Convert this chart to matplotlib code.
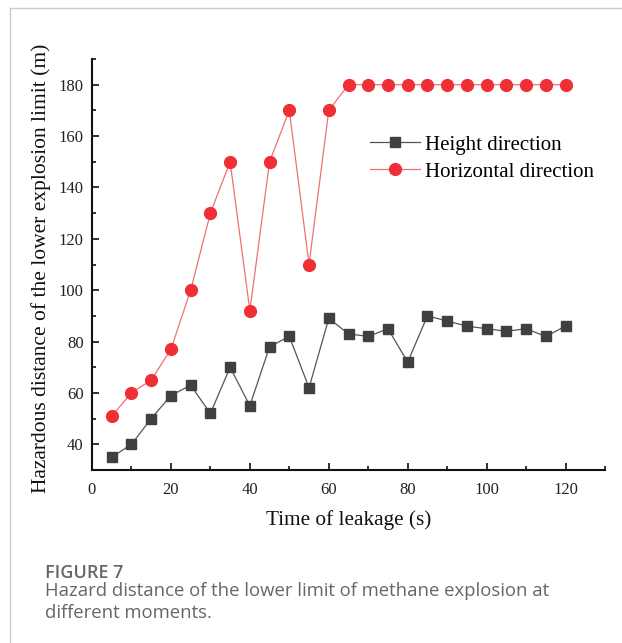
import matplotlib
matplotlib.use("Agg")
import matplotlib.pyplot as plt
from matplotlib.ticker import MultipleLocator
from matplotlib.lines import Line2D

# leakage time (s)
time_s = [5, 10, 15, 20, 25, 30, 35, 40, 45, 50, 55, 60,
          65, 70, 75, 80, 85, 90, 95, 100, 105, 110, 115, 120]
# hazardous distance (m)
height_dir = [35, 40, 50, 59, 63, 52, 70, 55, 78, 82, 62, 89,
              83, 82, 85, 72, 90, 88, 86, 85, 84, 85, 82, 86]
horizontal_dir = [51, 60, 65, 77, 100, 130, 150, 92, 150, 170, 110, 170,
                  180, 180, 180, 180, 180, 180, 180, 180, 180, 180, 180, 180]

plt.rcParams['font.family'] = ['Liberation Serif', 'DejaVu Serif']

fig = plt.figure(figsize=(6.22, 6.43), dpi=100)

# page frame lines (top and left)
fig.add_artist(Line2D([10 / 622, 1], [1 - 8 / 643, 1 - 8 / 643], color='#cccccc', lw=1))
fig.add_artist(Line2D([10 / 622, 10 / 622], [0, 1 - 8 / 643], color='#cccccc', lw=1))

ax = fig.add_axes([92 / 622, 1 - 470 / 643, 513 / 622, 411 / 643])

ax.plot(time_s, height_dir, color='#555555', lw=0.9, marker='s', ms=7.5,
        mfc='#404040', mec='#404040', label='Height direction')
ax.plot(time_s, horizontal_dir, color='#f07070', lw=0.9, marker='o', ms=8.5,
        mfc='#ee2f36', mec='#ee2f36', label='Horizontal direction')

ax.set_xlim(0, 130)
ax.set_ylim(30, 190)
ax.xaxis.set_major_locator(MultipleLocator(20))
ax.xaxis.set_minor_locator(MultipleLocator(10))
ax.yaxis.set_major_locator(MultipleLocator(20))
ax.yaxis.set_minor_locator(MultipleLocator(10))
ax.set_yticks(range(40, 181, 20))
ax.tick_params(which='both', direction='in', width=1.3, labelsize=12, colors='#222222')
ax.tick_params(which='major', length=5)
ax.tick_params(which='minor', length=3)
ax.tick_params(axis='x', pad=9)
ax.tick_params(axis='y', pad=6)
ax.spines['top'].set_visible(False)
ax.spines['right'].set_visible(False)
for s in ['left', 'bottom']:
    ax.spines[s].set_linewidth(1.5)
    ax.spines[s].set_color('#111111')

ax.set_xlabel('Time of leakage (s)', fontsize=15.3, labelpad=8, color='#111111')
ax.set_ylabel('Hazardous distance of the lower explosion limit (m)', fontsize=15.5,
              color='#111111')
ax.yaxis.set_label_coords(-0.08, 0.49)

ax.legend(loc='upper left', bbox_to_anchor=(0.525, 0.835), frameon=False, fontsize=15,
          handlelength=2.4, handletextpad=0.25, labelspacing=0.35, borderaxespad=0)

fig.text(45 / 622, 1 - 573 / 643, 'FIGURE 7', fontsize=13, color='#666666',
         family='Open Sans', weight='semibold', va='center')
fig.text(45 / 622, 1 - 591 / 643, 'Hazard distance of the lower limit of methane explosion at',
         fontsize=13.3, color='#666666', family='Open Sans', va='center')
fig.text(45 / 622, 1 - 613 / 643, 'different moments.', fontsize=13.3, color='#666666',
         family='Open Sans', va='center')

plt.savefig('out.png', dpi=100)
